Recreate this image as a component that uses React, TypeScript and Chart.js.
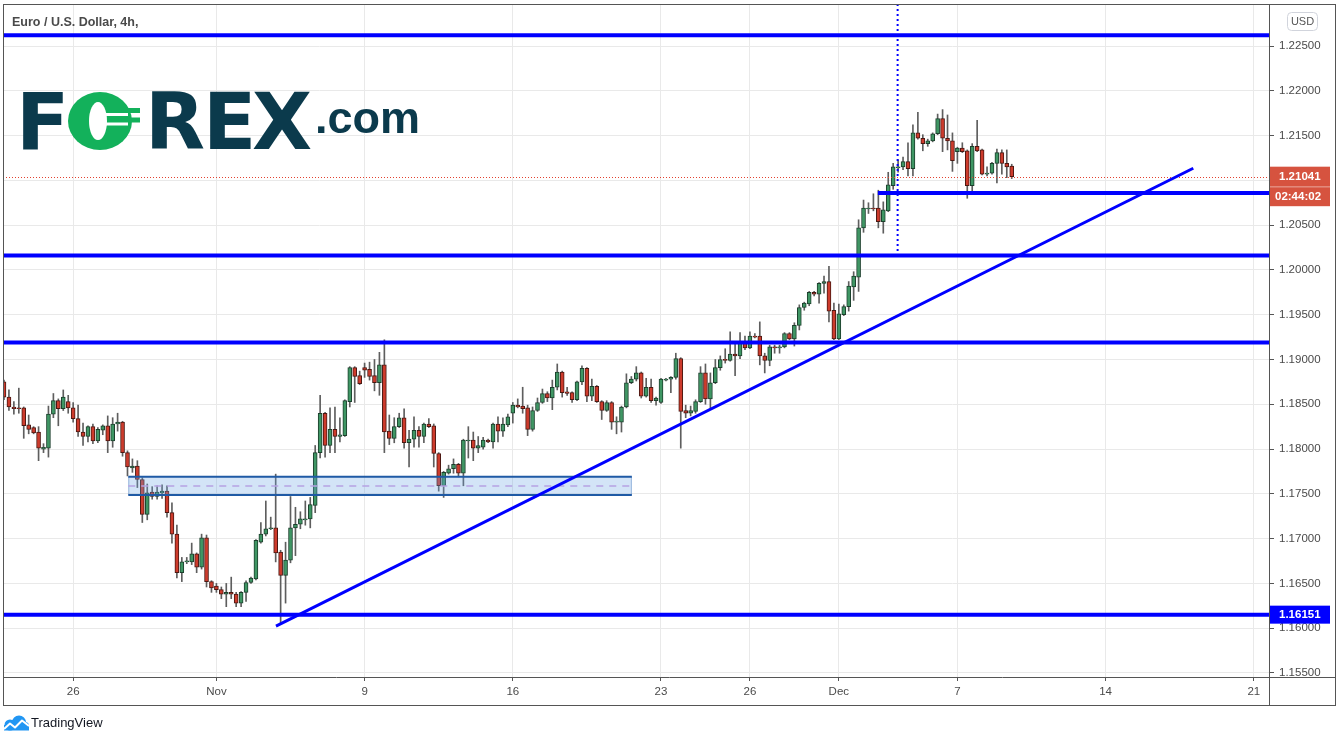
import React, { useEffect, useRef } from 'react';
import { Chart, registerables } from 'chart.js';

Chart.register(...registerables);

// ---- 4h candles, EUR/USD ----
const opens = [
  1.1875, 1.1858, 1.1847, 1.1846, 1.1846, 1.1827, 1.1824, 1.1819, 1.1800, 1.1801,
  1.1839, 1.1854, 1.1845, 1.1853, 1.1846, 1.1834, 1.1819, 1.1814, 1.1825, 1.1809,
  1.1821, 1.1826, 1.1809, 1.1828, 1.1830, 1.1796, 1.1779, 1.1781, 1.1766, 1.1727,
  1.1752, 1.1747, 1.1751, 1.1753, 1.1729, 1.1705, 1.1662, 1.1674, 1.1674, 1.1683,
  1.1668, 1.1701, 1.1652, 1.1647, 1.1643, 1.1638, 1.1640, 1.1638, 1.1628, 1.1640,
  1.1651, 1.1655, 1.1696, 1.1705, 1.1711, 1.1712, 1.1685, 1.1659, 1.1676, 1.1712,
  1.1716, 1.1721, 1.1722, 1.1737, 1.1796, 1.1840, 1.1804, 1.1822, 1.1814, 1.1815,
  1.1853, 1.1891, 1.1882, 1.1891, 1.1889, 1.1882, 1.1874, 1.1894, 1.1820, 1.1812,
  1.1825, 1.1835, 1.1807, 1.1811, 1.1821, 1.1814, 1.1828, 1.1826, 1.1795, 1.1759,
  1.1773, 1.1778, 1.1783, 1.1773, 1.1809, 1.1810, 1.1801, 1.1802, 1.1810, 1.1808,
  1.1828, 1.1820, 1.1827, 1.1840, 1.1849, 1.1848, 1.1846, 1.1822, 1.1843, 1.1852,
  1.1862, 1.1857, 1.1869, 1.1886, 1.1864, 1.1863, 1.1855, 1.1875, 1.1890, 1.1859,
  1.1870, 1.1853, 1.1843, 1.1852, 1.1830, 1.1830, 1.1847, 1.1874, 1.1878, 1.1885,
  1.1859, 1.1869, 1.1854, 1.1852, 1.1877, 1.1878, 1.1880, 1.1901, 1.1843, 1.1840,
  1.1842, 1.1853, 1.1885, 1.1856, 1.1874, 1.1891, 1.1900, 1.1899, 1.1906, 1.1904,
  1.1920, 1.1913, 1.1926, 1.1926, 1.1904, 1.1899, 1.1914, 1.1913, 1.1914, 1.1929,
  1.1923, 1.1938, 1.1958, 1.1962, 1.1975, 1.1973, 1.1985, 1.1987, 1.1955, 1.1923,
  1.1950, 1.1959, 1.1981, 1.1992, 1.2047, 1.2068, 1.2069, 1.2069, 1.2054, 1.2066,
  1.2094, 1.2114, 1.2115, 1.2121, 1.2113, 1.2153, 1.2147, 1.2141, 1.2144, 1.2152,
  1.2169, 1.2147, 1.2144, 1.2132, 1.2136, 1.2133, 1.2094, 1.2138, 1.2134, 1.2107,
  1.2108, 1.2119, 1.2131, 1.2119, 1.2116,
];

const highs = [
  1.1877, 1.1866, 1.1853, 1.1868, 1.1847, 1.1838, 1.1825, 1.1825, 1.1806, 1.1848,
  1.1862, 1.1856, 1.1866, 1.1860, 1.1852, 1.1849, 1.1829, 1.1826, 1.1828, 1.1824,
  1.1827, 1.1837, 1.1835, 1.1840, 1.1831, 1.1798, 1.1789, 1.1787, 1.1768, 1.1761,
  1.1758, 1.1759, 1.1760, 1.1759, 1.1740, 1.1715, 1.1679, 1.1679, 1.1695, 1.1684,
  1.1705, 1.1704, 1.1653, 1.1650, 1.1646, 1.1650, 1.1657, 1.1640, 1.1641, 1.1653,
  1.1657, 1.1699, 1.1718, 1.1742, 1.1724, 1.1772, 1.1687, 1.1696, 1.1747, 1.1735,
  1.1730, 1.1742, 1.1746, 1.1804, 1.1860, 1.1841, 1.1846, 1.1847, 1.1835, 1.1855,
  1.1892, 1.1892, 1.1887, 1.1896, 1.1897, 1.1900, 1.1908, 1.1922, 1.1838, 1.1835,
  1.1840, 1.1845, 1.1821, 1.1836, 1.1825, 1.1829, 1.1834, 1.1828, 1.1796, 1.1775,
  1.1782, 1.1789, 1.1784, 1.1811, 1.1825, 1.1819, 1.1814, 1.1813, 1.1811, 1.1829,
  1.1836, 1.1835, 1.1839, 1.1852, 1.1856, 1.1869, 1.1849, 1.1847, 1.1857, 1.1867,
  1.1864, 1.1877, 1.1895, 1.1887, 1.1869, 1.1864, 1.1876, 1.1893, 1.1891, 1.1878,
  1.1871, 1.1854, 1.1854, 1.1853, 1.1836, 1.1848, 1.1884, 1.1881, 1.1892, 1.1886,
  1.1879, 1.1878, 1.1858, 1.1879, 1.1879, 1.1881, 1.1907, 1.1902, 1.1849, 1.1848,
  1.1855, 1.1892, 1.1895, 1.1885, 1.1900, 1.1904, 1.1912, 1.1931, 1.1919, 1.1930,
  1.1926, 1.1931, 1.1929, 1.1942, 1.1907, 1.1916, 1.1916, 1.1916, 1.1930, 1.1930,
  1.1941, 1.1961, 1.1964, 1.1976, 1.1976, 1.1986, 1.1993, 1.2004, 1.1963, 1.1962,
  1.1961, 1.1987, 1.1998, 1.2056, 1.2078, 1.2075, 1.2085, 1.2089, 1.2076, 1.2109,
  1.2119, 1.2123, 1.2126, 1.2142, 1.2162, 1.2176, 1.2151, 1.2146, 1.2153, 1.2174,
  1.2179, 1.2173, 1.2153, 1.2137, 1.2142, 1.2134, 1.2141, 1.2167, 1.2135, 1.2115,
  1.2120, 1.2135, 1.2134, 1.2134, 1.2118,
];

const lows = [
  1.1855, 1.1843, 1.1839, 1.1840, 1.1812, 1.1817, 1.1817, 1.1787, 1.1796, 1.1791,
  1.1835, 1.1826, 1.1843, 1.1840, 1.1830, 1.1814, 1.1804, 1.1808, 1.1806, 1.1807,
  1.1816, 1.1796, 1.1802, 1.1820, 1.1792, 1.1770, 1.1774, 1.1757, 1.1718, 1.1721,
  1.1744, 1.1744, 1.1745, 1.1724, 1.1695, 1.1656, 1.1652, 1.1672, 1.1671, 1.1662,
  1.1666, 1.1646, 1.1640, 1.1640, 1.1633, 1.1624, 1.1633, 1.1624, 1.1624, 1.1630,
  1.1650, 1.1654, 1.1695, 1.1703, 1.1710, 1.1674, 1.1606, 1.1628, 1.1673, 1.1681,
  1.1711, 1.1715, 1.1712, 1.1729, 1.1790, 1.1791, 1.1796, 1.1796, 1.1808, 1.1814,
  1.1847, 1.1852, 1.1872, 1.1880, 1.1877, 1.1865, 1.1860, 1.1796, 1.1805, 1.1807,
  1.1824, 1.1801, 1.1780, 1.1802, 1.1802, 1.1807, 1.1824, 1.1780, 1.1753, 1.1746,
  1.1772, 1.1773, 1.1769, 1.1759, 1.1790, 1.1787, 1.1796, 1.1800, 1.1807, 1.1801,
  1.1808, 1.1814, 1.1825, 1.1829, 1.1846, 1.1840, 1.1815, 1.1820, 1.1842, 1.1851,
  1.1853, 1.1844, 1.1866, 1.1858, 1.1860, 1.1852, 1.1854, 1.1872, 1.1853, 1.1854,
  1.1852, 1.1833, 1.1842, 1.1822, 1.1817, 1.1819, 1.1846, 1.1873, 1.1876, 1.1857,
  1.1858, 1.1852, 1.1849, 1.1851, 1.1876, 1.1863, 1.1878, 1.1801, 1.1835, 1.1837,
  1.1840, 1.1852, 1.1850, 1.1846, 1.1873, 1.1888, 1.1896, 1.1898, 1.1882, 1.1901,
  1.1911, 1.1912, 1.1924, 1.1894, 1.1885, 1.1893, 1.1907, 1.1907, 1.1913, 1.1922,
  1.1915, 1.1933, 1.1955, 1.1960, 1.1971, 1.1963, 1.1974, 1.1942, 1.1922, 1.1922,
  1.1949, 1.1954, 1.1966, 1.1976, 1.2042, 1.2063, 1.2066, 1.2047, 1.2041, 1.2065,
  1.2090, 1.2109, 1.2112, 1.2105, 1.2105, 1.2146, 1.2133, 1.2138, 1.2143, 1.2151,
  1.2132, 1.2134, 1.2110, 1.2119, 1.2131, 1.2080, 1.2088, 1.2132, 1.2106, 1.2105,
  1.2107, 1.2097, 1.2107, 1.2103, 1.2102,
];

const closes = [
  1.1858, 1.1847, 1.1845, 1.1845, 1.1826, 1.1822, 1.1818, 1.1801, 1.1802, 1.1839,
  1.1854, 1.1845, 1.1858, 1.1846, 1.1834, 1.1819, 1.1814, 1.1825, 1.1809, 1.1822,
  1.1826, 1.1809, 1.1828, 1.1830, 1.1796, 1.1780, 1.1781, 1.1766, 1.1727, 1.1751,
  1.1747, 1.1752, 1.1753, 1.1729, 1.1705, 1.1662, 1.1674, 1.1675, 1.1683, 1.1668,
  1.1701, 1.1652, 1.1645, 1.1643, 1.1638, 1.1640, 1.1638, 1.1628, 1.1640, 1.1651,
  1.1656, 1.1698, 1.1705, 1.1711, 1.1712, 1.1684, 1.1659, 1.1676, 1.1712, 1.1716,
  1.1722, 1.1722, 1.1738, 1.1796, 1.1840, 1.1804, 1.1822, 1.1814, 1.1816, 1.1854,
  1.1891, 1.1881, 1.1873, 1.1888, 1.1881, 1.1874, 1.1894, 1.1819, 1.1812, 1.1825,
  1.1835, 1.1807, 1.1811, 1.1821, 1.1814, 1.1828, 1.1825, 1.1795, 1.1759, 1.1774,
  1.1778, 1.1783, 1.1773, 1.1810, 1.1810, 1.1801, 1.1804, 1.1810, 1.1808, 1.1828,
  1.1820, 1.1828, 1.1836, 1.1849, 1.1847, 1.1845, 1.1822, 1.1843, 1.1852, 1.1862,
  1.1857, 1.1869, 1.1886, 1.1863, 1.1862, 1.1855, 1.1875, 1.1890, 1.1859, 1.1870,
  1.1853, 1.1843, 1.1852, 1.1830, 1.1831, 1.1847, 1.1874, 1.1878, 1.1885, 1.1859,
  1.1869, 1.1854, 1.1857, 1.1878, 1.1878, 1.1880, 1.1901, 1.1842, 1.1840, 1.1843,
  1.1853, 1.1885, 1.1856, 1.1874, 1.1891, 1.1900, 1.1899, 1.1906, 1.1904, 1.1920,
  1.1913, 1.1926, 1.1925, 1.1904, 1.1899, 1.1914, 1.1913, 1.1914, 1.1929, 1.1923,
  1.1938, 1.1958, 1.1963, 1.1975, 1.1973, 1.1985, 1.1987, 1.1954, 1.1923, 1.1951,
  1.1959, 1.1982, 1.1993, 1.2047, 1.2069, 1.2069, 1.2068, 1.2054, 1.2067, 1.2095,
  1.2115, 1.2115, 1.2121, 1.2113, 1.2153, 1.2147, 1.2141, 1.2144, 1.2152, 1.2169,
  1.2147, 1.2144, 1.2122, 1.2136, 1.2132, 1.2094, 1.2138, 1.2133, 1.2107, 1.2108,
  1.2119, 1.2131, 1.2119, 1.2115, 1.21041,
];

// ---- axes ----
const timeTickIndex = [14, 43, 73, 103, 133, 151, 169, 193, 223, 253];
const timeTickLabels = ['26', 'Nov', '9', '16', '23', '26', 'Dec', '7', '14', '21'];
const priceTicks = [
  1.155, 1.16, 1.165, 1.17, 1.175, 1.18, 1.185, 1.19, 1.195, 1.2, 1.205, 1.21, 1.215, 1.22, 1.225,
];
const xMin = -0.2;
const xMax = 256.08;
const yMin = 1.15455;
const yMax = 1.22969;

// ---- drawings (in price / bar-index units) ----
const levelPrices = [1.2262, 1.2016, 1.1919, 1.16151];
const shortLevel = { price: 1.2086, fromIndex: 176.9 };
const trendLine = { fromIndex: 55.06, fromPrice: 1.16024, toIndex: 240.75, toPrice: 1.21135 };
const zone = { fromIndex: 25.16, toIndex: 127.1, top: 1.17691, bottom: 1.17487, mid: 1.17588 };
const markerLine = { index: 180.9, bottomPrice: 1.20186 };
const lastPrice = 1.21041;
const lastPriceText = '1.21041';
const countdownText = '02:44:02';
const lowLevelPrice = 1.16151;
const lowLevelText = '1.16151';
const titleText = 'Euro / U.S. Dollar, 4h,';

const FONT = '"Liberation Sans", Arial, sans-serif';
const BLUE = '#0000ff';
const NAVY = '#0b3a4c';
const GREEN = '#13b15b';

function drawLogo(ctx: CanvasRenderingContext2D) {
  ctx.save();
  ctx.textBaseline = 'alphabetic';
  ctx.textAlign = 'left';
  ctx.font = 'bold 78px "DejaVu Sans"';
  const base = 149;
  const put = (ch: string, left: number) => {
    const m = ctx.measureText(ch);
    ctx.fillText(ch, left + m.actualBoundingBoxLeft, base);
  };
  ctx.fillStyle = NAVY;
  put('F', 23);
  put('R', 152);
  put('E', 210);
  put('X', 253);
  // stylised green O
  ctx.fillStyle = GREEN;
  ctx.beginPath();
  ctx.ellipse(100, 121, 32, 29, 0, 0, Math.PI * 2);
  ctx.fill();
  ctx.fillRect(124, 108, 16, 5);
  ctx.fillRect(124, 117.5, 16, 5);
  ctx.fillStyle = '#ffffff';
  ctx.beginPath();
  ctx.ellipse(98, 121, 9, 19, 0, 0, Math.PI * 2);
  ctx.fill();
  ctx.fillRect(100, 113, 28, 3);
  ctx.fillRect(100, 122.5, 28, 3);
  ctx.fillStyle = NAVY;
  ctx.font = 'bold 45px ' + FONT;
  const m = ctx.measureText('.com');
  ctx.fillText('.com', 318 + m.actualBoundingBoxLeft, 133);
  ctx.restore();
}

function drawTradingView(ctx: CanvasRenderingContext2D) {
  ctx.save();
  ctx.fillStyle = '#2196f3';
  ctx.beginPath();
  ctx.arc(10, 725, 5.5, 0, Math.PI * 2);
  ctx.arc(19, 722.5, 7, 0, Math.PI * 2);
  ctx.fill();
  ctx.beginPath();
  ctx.arc(25, 726, 4, 0, Math.PI * 2);
  ctx.fill();
  ctx.fillRect(4, 725, 25, 5.5);
  ctx.strokeStyle = '#ffffff';
  ctx.lineWidth = 2;
  ctx.lineJoin = 'round';
  ctx.beginPath();
  ctx.moveTo(4, 729);
  ctx.lineTo(10, 723.5);
  ctx.lineTo(15, 727.5);
  ctx.lineTo(22, 720.5);
  ctx.lineTo(29, 726);
  ctx.stroke();
  ctx.fillStyle = '#131722';
  ctx.font = '13px ' + FONT;
  ctx.textBaseline = 'middle';
  ctx.fillText('TradingView', 31, 723.5);
  ctx.restore();
}

const overlayPlugin = {
  id: 'tvOverlay',
  afterDatasetsDraw(chart: any) {
    const { ctx, chartArea: a, scales } = chart;
    const x = scales.x;
    const y = scales.y;
    ctx.save();
    ctx.beginPath();
    ctx.rect(a.left, a.top, a.right - a.left, a.bottom - a.top);
    ctx.clip();

    // support zone
    const zx1 = x.getPixelForValue(zone.fromIndex);
    const zx2 = x.getPixelForValue(zone.toIndex);
    const zy1 = y.getPixelForValue(zone.top);
    const zy2 = y.getPixelForValue(zone.bottom);
    const zym = y.getPixelForValue(zone.mid);
    ctx.fillStyle = 'rgba(110,165,230,0.3)';
    ctx.fillRect(zx1, zy1, zx2 - zx1, zy2 - zy1);
    ctx.strokeStyle = 'rgba(30,90,166,0.35)';
    ctx.lineWidth = 1;
    ctx.beginPath();
    ctx.moveTo(zx1 + 0.5, zy1);
    ctx.lineTo(zx1 + 0.5, zy2);
    ctx.moveTo(zx2 - 0.5, zy1);
    ctx.lineTo(zx2 - 0.5, zy2);
    ctx.stroke();
    ctx.strokeStyle = '#1f5aa5';
    ctx.lineWidth = 2;
    ctx.beginPath();
    ctx.moveTo(zx1, zy1);
    ctx.lineTo(zx2, zy1);
    ctx.moveTo(zx1, zy2);
    ctx.lineTo(zx2, zy2);
    ctx.stroke();
    ctx.strokeStyle = '#b6a3e3';
    ctx.lineWidth = 1.5;
    ctx.setLineDash([7, 6]);
    ctx.beginPath();
    ctx.moveTo(zx1, zym);
    ctx.lineTo(zx2, zym);
    ctx.stroke();
    ctx.setLineDash([]);

    // last price dotted line
    const lp = y.getPixelForValue(lastPrice);
    ctx.strokeStyle = '#e3412f';
    ctx.lineWidth = 1;
    ctx.setLineDash([1, 2]);
    ctx.beginPath();
    ctx.moveTo(a.left, Math.round(lp) + 0.5);
    ctx.lineTo(a.right, Math.round(lp) + 0.5);
    ctx.stroke();
    ctx.setLineDash([]);

    // horizontal levels
    ctx.strokeStyle = BLUE;
    ctx.lineWidth = 4;
    for (const p of levelPrices) {
      const py = y.getPixelForValue(p);
      ctx.beginPath();
      ctx.moveTo(a.left, py);
      ctx.lineTo(a.right, py);
      ctx.stroke();
    }
    const sy = y.getPixelForValue(shortLevel.price);
    ctx.beginPath();
    ctx.moveTo(x.getPixelForValue(shortLevel.fromIndex), sy);
    ctx.lineTo(a.right, sy);
    ctx.stroke();

    // trend line
    ctx.lineWidth = 3;
    ctx.beginPath();
    ctx.moveTo(x.getPixelForValue(trendLine.fromIndex), y.getPixelForValue(trendLine.fromPrice));
    ctx.lineTo(x.getPixelForValue(trendLine.toIndex), y.getPixelForValue(trendLine.toPrice));
    ctx.stroke();

    // dotted vertical marker
    ctx.lineWidth = 2;
    ctx.setLineDash([2, 3]);
    const mx = x.getPixelForValue(markerLine.index);
    ctx.beginPath();
    ctx.moveTo(mx, a.top);
    ctx.lineTo(mx, y.getPixelForValue(markerLine.bottomPrice));
    ctx.stroke();
    ctx.setLineDash([]);
    ctx.restore();
  },
  afterDraw(chart: any) {
    const { ctx, chartArea: a, scales } = chart;
    const y = scales.y;
    ctx.save();
    // frame
    ctx.strokeStyle = '#555555';
    ctx.lineWidth = 1;
    ctx.strokeRect(3.5, 4.5, 1332, 701);
    ctx.beginPath();
    ctx.moveTo(a.right + 0.5, 4.5);
    ctx.lineTo(a.right + 0.5, 705.5);
    ctx.moveTo(3.5, a.bottom + 0.5);
    ctx.lineTo(1335.5, a.bottom + 0.5);
    ctx.stroke();

    // price labels on the axis
    const bx = a.right + 1;
    const bw = 60;
    const lp = y.getPixelForValue(lastPrice);
    ctx.fillStyle = '#d6533f';
    ctx.fillRect(bx, lp - 10, bw, 20);
    ctx.fillRect(bx, lp + 10.5, bw, 19);
    ctx.fillStyle = '#ffffff';
    ctx.font = 'bold 11.5px ' + FONT;
    ctx.textBaseline = 'middle';
    ctx.textAlign = 'left';
    ctx.fillText(lastPriceText, bx + 9, lp + 0.5);
    ctx.fillText(countdownText, bx + 5, lp + 20);

    const lowY = y.getPixelForValue(lowLevelPrice);
    ctx.fillStyle = BLUE;
    ctx.fillRect(bx, lowY - 9, bw, 18);
    ctx.fillStyle = '#ffffff';
    ctx.fillText(lowLevelText, bx + 9, lowY + 0.5);

    // USD badge
    ctx.strokeStyle = '#d1d4dc';
    ctx.fillStyle = '#ffffff';
    ctx.beginPath();
    (ctx as any).roundRect(1287.5, 12.5, 30, 18, 4);
    ctx.fill();
    ctx.stroke();
    ctx.fillStyle = '#555555';
    ctx.font = '11px ' + FONT;
    ctx.textAlign = 'center';
    ctx.fillText('USD', 1302.5, 22);

    // title
    ctx.textAlign = 'left';
    ctx.fillStyle = '#4a4a4a';
    ctx.font = 'bold 12.5px ' + FONT;
    ctx.fillText(titleText, 12, 22.5);

    drawLogo(ctx);
    drawTradingView(ctx);
    ctx.restore();
  },
};

export default function App() {
  const ref = useRef<HTMLCanvasElement | null>(null);

  useEffect(() => {
    const canvas = ref.current;
    if (!canvas) return;
    const idx = opens.map((_, i) => i);
    const isUp = (i: number) => closes[i] >= opens[i];
    const tickFont = { family: FONT, size: 11.5 };

    const chart = new Chart(canvas, {
      type: 'bar',
      data: {
        datasets: [
          {
            label: 'body',
            data: idx.map((i) => ({ x: i, y: [Math.min(opens[i], closes[i]), Math.max(opens[i], closes[i])] })) as any,
            backgroundColor: idx.map((i) => (isUp(i) ? '#3f9664' : '#cd3b2c')),
            borderColor: idx.map((i) => (isUp(i) ? '#1c3f2c' : '#4a1812')),
            borderWidth: 1,
            borderSkipped: false,
            barThickness: 4,
            minBarLength: 1,
            grouped: false,
            order: 0,
          } as any,
          {
            label: 'wick',
            data: idx.map((i) => ({ x: i, y: [lows[i], highs[i]] })) as any,
            backgroundColor: '#5e5e5e',
            borderWidth: 0,
            barThickness: 1,
            grouped: false,
            order: 1,
          } as any,
        ],
      },
      options: {
        animation: false,
        responsive: false,
        devicePixelRatio: 1,
        events: [],
        layout: { padding: { left: 3, top: 4, right: 6, bottom: 37 } },
        plugins: { legend: { display: false }, tooltip: { enabled: false } },
        scales: {
          x: {
            type: 'linear',
            min: xMin,
            max: xMax,
            offset: false,
            afterBuildTicks: (s: any) => {
              s.ticks = timeTickIndex.map((v) => ({ value: v }));
            },
            afterFit: (s: any) => {
              s.height = 28;
              s.paddingLeft = 0;
              s.paddingRight = 0;
            },
            ticks: {
              autoSkip: false,
              maxRotation: 0,
              minRotation: 0,
              padding: 4,
              color: '#4a4a4a',
              font: tickFont,
              callback: (v: any) => {
                const k = timeTickIndex.indexOf(Number(v));
                return k >= 0 ? timeTickLabels[k] : '';
              },
            },
            grid: { color: '#e9e9e9', tickColor: '#555555', tickLength: 4, drawTicks: true, offset: false },
            border: { display: false },
          },
          y: {
            type: 'linear',
            position: 'right',
            min: yMin,
            max: yMax,
            afterBuildTicks: (s: any) => {
              s.ticks = priceTicks.map((v) => ({ value: v }));
            },
            afterFit: (s: any) => {
              s.width = 67;
              s.paddingTop = 0;
              s.paddingBottom = 0;
            },
            ticks: {
              padding: 5,
              color: '#4a4a4a',
              font: tickFont,
              callback: (v: any) => Number(v).toFixed(5),
            },
            grid: { color: '#e9e9e9', tickColor: '#555555', tickLength: 5, drawTicks: true },
            border: { display: false },
          },
        } as any,
      },
      plugins: [overlayPlugin as any],
    });
    return () => chart.destroy();
  }, []);

  return (
    <div style={{ position: 'fixed', left: 0, top: 0, width: 1342, height: 742, background: '#ffffff' }}>
      <canvas ref={ref} width={1342} height={742} style={{ display: 'block' }} />
    </div>
  );
}
